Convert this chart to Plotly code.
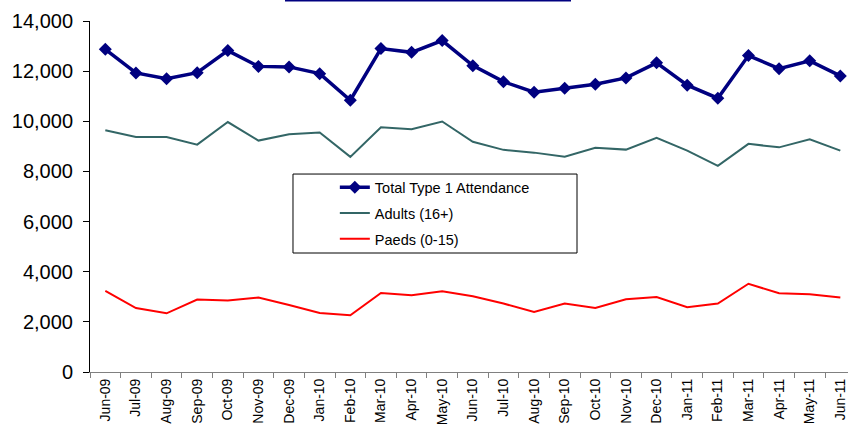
import plotly.graph_objects as go


# ==========================================================
# DATA
# ==========================================================

months = [
    "Jun-09", "Jul-09", "Aug-09", "Sep-09", "Oct-09", "Nov-09", "Dec-09",
    "Jan-10", "Feb-10", "Mar-10", "Apr-10", "May-10", "Jun-10", "Jul-10",
    "Aug-10", "Sep-10", "Oct-10", "Nov-10", "Dec-10", "Jan-11", "Feb-11",
    "Mar-11", "Apr-11", "May-11", "Jun-11"
]

total_type1 = [
    12870, 11930, 11700, 11940, 12820, 12190, 12170, 11900, 10840, 12900,
    12750, 13220, 12220, 11580, 11160, 11320, 11480, 11730, 12330, 11440,
    10920, 12620, 12100, 12410, 11810
]

adults = [
    9640, 9370, 9370, 9070, 9970, 9230, 9480, 9550, 8580, 9760,
    9680, 9990, 9180, 8860, 8750, 8590, 8940, 8870, 9340, 8830,
    8220, 9100, 8960, 9280, 8830
]

paeds = [
    3240, 2550, 2340, 2890, 2850, 2970, 2670, 2350, 2260, 3150,
    3060, 3220, 3020, 2730, 2390, 2730, 2550, 2900, 2990, 2580,
    2730, 3520, 3140, 3100, 2970
]

y_ticks = [0, 2000, 4000, 6000, 8000, 10000, 12000, 14000]


# ==========================================================
# FIGURE
# ==========================================================

FONT = "Liberation Sans, Arial, sans-serif"

fig = go.Figure()

fig.add_trace(
    go.Scatter(
        x=months,
        y=total_type1,
        name="Total Type 1 Attendance",
        mode="lines+markers",
        line=dict(color="#000080", width=3.5),
        marker=dict(symbol="diamond", size=10, color="#000080"),
        legendgroup="a"
    )
)

fig.add_trace(
    go.Scatter(
        x=months,
        y=adults,
        name="Adults (16+)",
        mode="lines",
        line=dict(color="#336666", width=2),
        legendgroup="b"
    )
)

fig.add_trace(
    go.Scatter(
        x=months,
        y=paeds,
        name="Paeds (0-15)",
        mode="lines",
        line=dict(color="#FF0000", width=2),
        legendgroup="c"
    )
)

# plot area runs from x=90 to 848 px and y=21 to 372 px
fig.update_layout(
    width=848,
    height=439,
    margin=dict(l=90, r=0, t=21, b=67, pad=0),
    paper_bgcolor="white",
    plot_bgcolor="white",
    font=dict(family=FONT, color="black"),
    showlegend=True,
    legend=dict(
        x=0.323,
        y=0.572,
        xanchor="left",
        yanchor="top",
        bgcolor="rgba(0,0,0,0)",
        borderwidth=0,
        font=dict(size=14.5, family=FONT),
        itemwidth=30,
        tracegroupgap=4,
        traceorder="grouped"
    ),
    shapes=[
        # legend frame
        dict(
            type="rect", xref="paper", yref="paper",
            x0=0.2678, x1=0.6425, y0=0.339, y1=0.564,
            line=dict(color="black", width=1),
            fillcolor="white", layer="below"
        ),
        # underline of the cut-off title
        dict(
            type="line", xref="paper", yref="paper",
            x0=(285 - 90) / 758, x1=(571 - 90) / 758,
            y0=(372 - 0.5) / 351, y1=(372 - 0.5) / 351,
            line=dict(color="#000080", width=2)
        )
    ]
)

fig.update_xaxes(
    type="category",
    range=[-0.5, 24.25],
    showline=True,
    linecolor="#808080",
    linewidth=1,
    ticks="outside",
    ticklen=5,
    tickcolor="#808080",
    tickson="boundaries",
    tickangle=-90,
    tickfont=dict(size=14, family=FONT, color="black"),
    showgrid=False,
    zeroline=False
)

fig.update_yaxes(
    range=[0, 14000],
    tickvals=y_ticks,
    tickformat=",d",
    showline=True,
    linecolor="black",
    linewidth=1,
    ticks="outside",
    ticklen=6,
    tickcolor="black",
    ticklabelstandoff=6,
    tickfont=dict(size=20, family=FONT, color="black"),
    showgrid=False,
    zeroline=False
)

fig.write_html(
    "out.html",
    config={"displayModeBar": False},
    post_script="document.body.style.margin='0';"
)
